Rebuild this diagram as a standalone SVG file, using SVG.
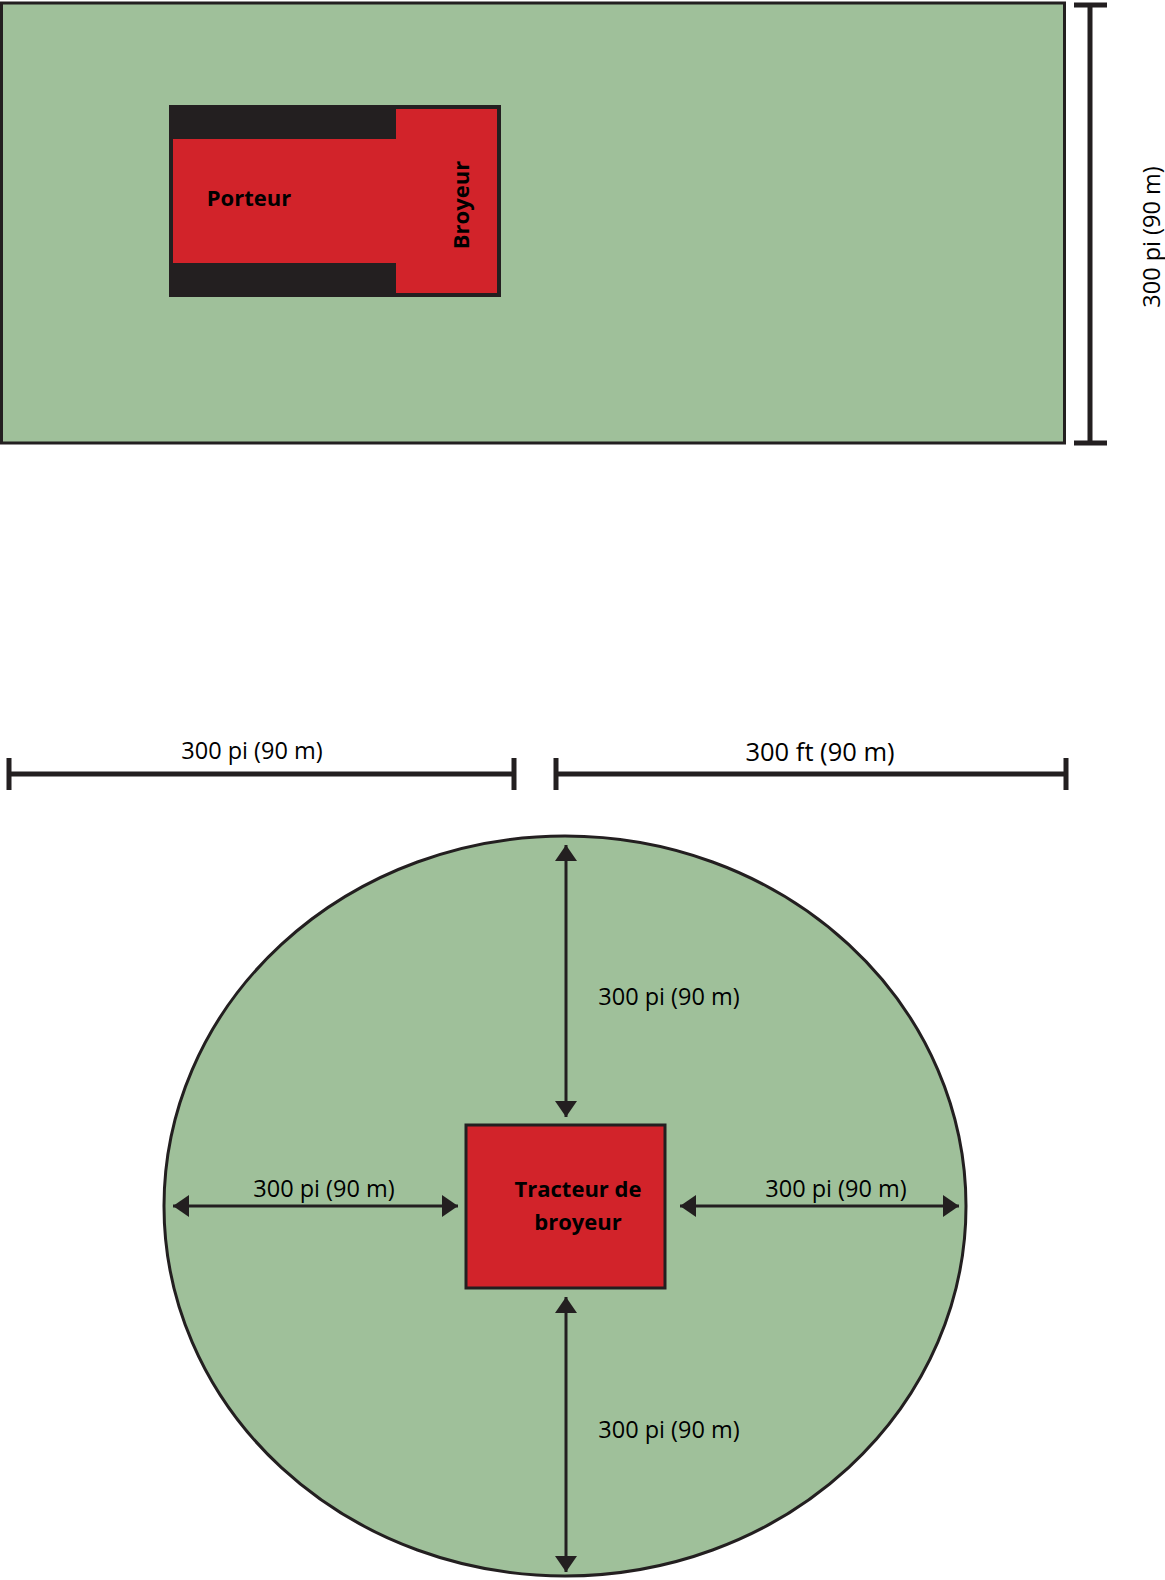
<svg xmlns="http://www.w3.org/2000/svg" width="1165" height="1580" viewBox="0 0 1165 1580">
<defs>
<style>
.field{fill:#9fc09a;stroke:#231f20;stroke-width:3}
.dim{stroke:#231f20;stroke-width:5;fill:none}
.arr{stroke:#231f20;stroke-width:3;fill:none}
.lbl{font-family:"Open Sans","Noto Sans",sans-serif;font-size:23.5px;fill:#000;text-anchor:middle}
.bold{font-family:"Open Sans","Noto Sans",sans-serif;font-size:22px;font-weight:bold;fill:#000;text-anchor:middle}
</style>
<marker id="ah2" viewBox="0 0 16 22" refX="16" refY="11" markerWidth="16" markerHeight="22" markerUnits="userSpaceOnUse" orient="auto-start-reverse">
<path d="M0,0 L16,11 L0,22 Z" fill="#231f20"/>
</marker>
</defs>
<rect width="1165" height="1580" fill="#fff"/>

<g id="field-rect">
<rect class="field" x="1.5" y="3" width="1063" height="440"/>
</g>

<g id="vehicle">
<rect x="169" y="105" width="332" height="192" fill="#231f20"/>
<rect x="396" y="109" width="101" height="184" fill="#d2232a"/>
<rect x="173" y="139" width="224" height="124" fill="#d2232a"/>
<text class="bold" x="249" y="206">Porteur</text>
<text class="bold" transform="translate(469,205) rotate(-90)" x="0" y="0">Broyeur</text>
</g>

<g id="dim-vertical">
<path class="dim" d="M1090,5 V443 M1074,5 H1107 M1074,443 H1107"/>
<text class="lbl" transform="translate(1160,237) rotate(-90)" x="0" y="0">300 pi (90 m)</text>
</g>

<g id="dim-left">
<path class="dim" d="M9,774 H516 M9,758 V790 M514,758 V790"/>
<text class="lbl" x="252" y="759">300 pi (90 m)</text>
</g>

<g id="dim-right">
<path class="dim" d="M556,774 H1068 M556,758 V790 M1066,758 V790"/>
<text class="lbl" x="820" y="761" style="font-size:25.5px">300 ft (90 m)</text>
</g>

<g id="field-circle">
<ellipse class="field" cx="565" cy="1206" rx="401" ry="370"/>
</g>

<g id="tractor">
<rect x="466" y="1125" width="199" height="163" fill="#d2232a" stroke="#231f20" stroke-width="3"/>
<text class="bold" x="578" y="1197">Tracteur de</text>
<text class="bold" x="578" y="1230">broyeur</text>
</g>

<g id="connectors">
<line class="arr" x1="566" y1="845" x2="566" y2="1117" marker-start="url(#ah2)" marker-end="url(#ah2)"/>
<line class="arr" x1="566" y1="1297" x2="566" y2="1572" marker-start="url(#ah2)" marker-end="url(#ah2)"/>
<line class="arr" x1="173" y1="1206" x2="458" y2="1206" marker-start="url(#ah2)" marker-end="url(#ah2)"/>
<line class="arr" x1="680" y1="1206" x2="959" y2="1206" marker-start="url(#ah2)" marker-end="url(#ah2)"/>
</g>

<g id="labels">
<text class="lbl" x="669" y="1005">300 pi (90 m)</text>
<text class="lbl" x="669" y="1438">300 pi (90 m)</text>
<text class="lbl" x="324" y="1197">300 pi (90 m)</text>
<text class="lbl" x="836" y="1197">300 pi (90 m)</text>
</g>
</svg>
